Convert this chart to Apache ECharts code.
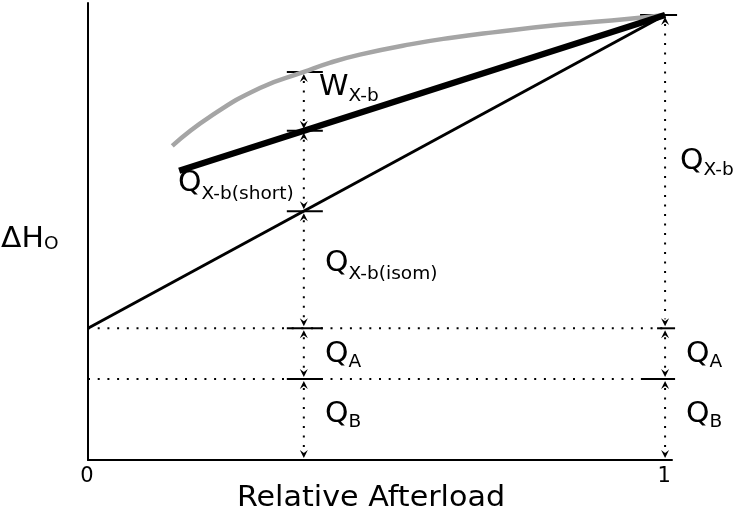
<!DOCTYPE html>
<html>
<head>
<meta charset="utf-8">
<script src="https://cdn.jsdelivr.net/npm/echarts@6/dist/echarts.min.js"></script>
<style>
  html, body { margin: 0; padding: 0; background: #fff; }
  #chart { width: 739px; height: 513px; }
</style>
</head>
<body>
<div id="chart"></div>
<script>
// ---- data ----
const xTickValues = [0, 1];
const xTickLabels = ['0', '1'];
const curveX = [0.146, 0.211, 0.298, 0.374, 0.42, 0.471, 0.558, 0.63, 0.702, 0.818, 0.934, 1];
const curveY = [70.6, 77.1, 83.6, 87.2, 89.3, 91.1, 93.4, 94.9, 96.1, 97.8, 99.1, 100];
const shortX = [0.158, 1];
const shortY = [65, 100];
const isomX = [0, 1];
const isomY = [29.6, 100];
const qA = 29.6;
const qB = 18.2;
const midX = 0.374;
const endX = 1;
const midBounds = [0, 18.2, 29.6, 55.9, 74.0, 87.2];
const endBounds = [0, 18.2, 29.6, 100];

// ---- styles ----
const FONT = '"DejaVu Sans", Verdana, sans-serif';
const MAIN = 29, SUB = 18, SX = 1.03, TICK = 21;
const midCapSpan = [17, 19];
const endCapSpans = { 100: [25, 12], 29.6: [8, 10], 18.2: [24, 10] };

const zip = (xs, ys) => xs.map((x, i) => [x, ys[i]]);

const segs = [];
[[midX, midBounds], [endX, endBounds]].forEach(([x, b]) => {
  for (let i = 0; i + 1 < b.length; i++) segs.push([x, b[i], b[i + 1]]);
});
const caps = [];
midBounds.slice(1).forEach(v => caps.push([midX, v, midCapSpan[0], midCapSpan[1]]));
endBounds.slice(1).forEach(v => caps.push([endX, v, endCapSpans[v][0], endCapSpans[v][1]]));

const cv = document.createElement('canvas').getContext('2d');
function w(text, size) { cv.font = size + 'px ' + FONT; return cv.measureText(text).width * SX; }

function txt(text, x, y, size, sx, align) {
  return { type: 'text', x: x, y: y, scaleX: sx,
    style: { text: text, font: size + 'px ' + FONT, fill: '#000', align: align || 'left', verticalAlign: 'middle',
             textAlign: align || 'left', textVerticalAlign: 'middle' } };
}
function label(main, sub, x, base, subDrop) {
  const mw = w(main, MAIN);
  return [
    txt(main, x, base - 0.346 * MAIN, MAIN, SX),
    txt(sub, x + mw, base + subDrop - 0.346 * SUB, SUB, SX)
  ];
}

const chart = echarts.init(document.getElementById('chart'), null, { renderer: 'canvas' });
chart.setOption({
  animation: false,
  backgroundColor: '#fff',
  grid: { left: 88, top: 3, right: 67, bottom: 53, containLabel: false },
  xAxis: {
    type: 'value', min: 0, max: 1.012,
    axisLine: { show: true, lineStyle: { color: '#000', width: 2 } },
    axisTick: { show: false },
    splitLine: { show: false },
    axisLabel: { show: false }
  },
  yAxis: {
    type: 'value', min: 0, max: 102.7,
    axisLine: { show: true, lineStyle: { color: '#000', width: 2 } },
    axisTick: { show: false },
    splitLine: { show: false },
    axisLabel: { show: false }
  },
  series: [
    { type: 'line', data: zip(curveX, curveY), smooth: 0.5, showSymbol: false,
      lineStyle: { color: '#a5a5a5', width: 4.5, cap: 'butt' } },
    { type: 'line', data: zip(isomX, isomY), showSymbol: false,
      lineStyle: { color: '#000', width: 3 } },
    { type: 'line', data: zip(shortX, shortY), showSymbol: false,
      lineStyle: { color: '#000', width: 6.5, cap: 'butt' } },
    { type: 'line', data: [[0, qA], [1, qA]], showSymbol: false,
      lineStyle: { color: '#000', width: 2, type: [2, 7.7] } },
    { type: 'line', data: [[0, qB], [1, qB]], showSymbol: false,
      lineStyle: { color: '#000', width: 2, type: [2, 7.7] } },
    { type: 'custom', data: caps, clip: false, encode: { x: 0, y: 1 },
      renderItem: (params, api) => {
        const p = api.coord([api.value(0), api.value(1)]);
        return { type: 'line', shape: { x1: p[0] - api.value(2), y1: p[1], x2: p[0] + api.value(3), y2: p[1] },
                 style: { stroke: '#000', lineWidth: 2 } };
      } },
    { type: 'custom', data: segs, clip: false, encode: { x: 0, y: [1, 2] },
      renderItem: (params, api) => {
        const lo = api.coord([api.value(0), api.value(1)]);
        const hi = api.coord([api.value(0), api.value(2)]);
        const x = lo[0], t = hi[1] + 2, b = lo[1] - 2;
        return { type: 'group', children: [
          { type: 'line', shape: { x1: x, y1: t + 7, x2: x, y2: b - 7 },
            style: { stroke: '#000', lineWidth: 2, lineDash: [2, 7.5] } },
          { type: 'polygon', shape: { points: [[x, t], [x - 4, t + 8], [x, t + 5], [x + 4, t + 8]] },
            style: { fill: '#000' } },
          { type: 'polygon', shape: { points: [[x, b], [x - 4, b - 8], [x, b - 5], [x + 4, b - 8]] },
            style: { fill: '#000' } }
        ] };
      } }
  ]
});

// tick labels placed through the axis scale
const tickGraphics = xTickValues.map((v, i) => {
  const p = chart.convertToPixel({ xAxisIndex: 0, yAxisIndex: 0 }, [v, 0]);
  return txt(xTickLabels[i], p[0] - 1, p[1] + 17, TICK, 1, 'center');
});

const graphics = [].concat(
  tickGraphics,
  label('ΔH', 'O', 1, 250, 1),
  label('W', 'X-b', 319, 98, 5),
  label('Q', 'X-b(short)', 178, 194, 7),
  label('Q', 'X-b(isom)', 325, 274, 7),
  label('Q', 'A', 325, 365, 4),
  label('Q', 'B', 325, 425, 4),
  label('Q', 'X-b', 680, 172, 5),
  label('Q', 'A', 686, 365, 4),
  label('Q', 'B', 686, 425, 4),
  [txt('Relative Afterload', 371, 509 - 0.346 * 29, 29, 1.04, 'center')]
);
chart.setOption({ graphic: graphics });
</script>
</body>
</html>
